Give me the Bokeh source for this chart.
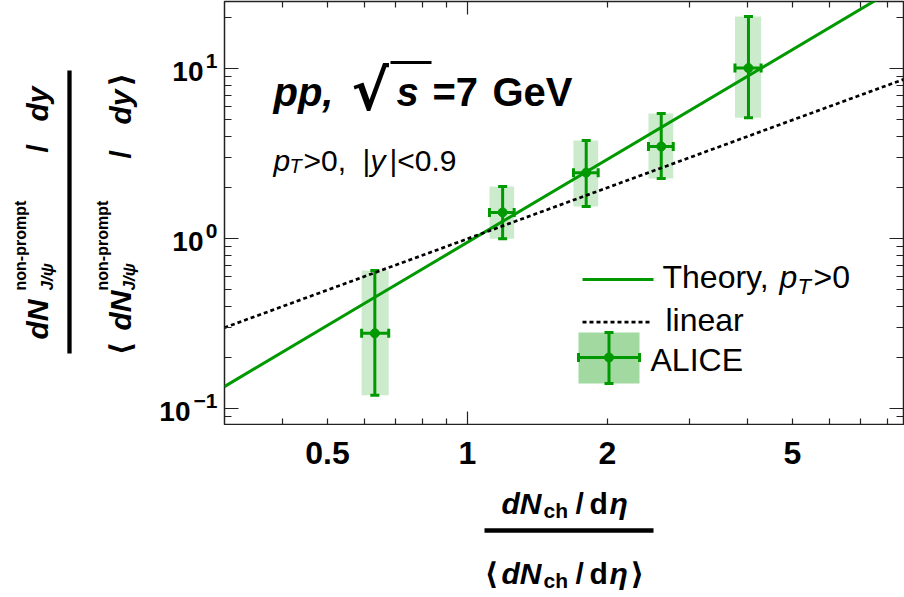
import math
from bokeh.plotting import figure
from bokeh.layouts import column, row
from bokeh.models import (Range1d, LogAxis, LogScale, FixedTicker, Whisker,
                          TeeHead, ColumnDataSource)
from bokeh.core.properties import value
from bokeh.embed import file_html
from bokeh.resources import INLINE

# ---------------- data ----------------
alice_x = [0.632, 1.19, 1.80, 2.61, 4.02]
alice_y = [0.278, 1.43, 2.45, 3.49, 10.1]
alice_xlo = [0.592, 1.115, 1.69, 2.45, 3.76]
alice_xhi = [0.677, 1.26, 1.91, 2.77, 4.28]
alice_ylo = [0.120, 1.00, 1.55, 2.26, 5.15]
alice_yhi = [0.651, 2.03, 3.79, 5.46, 20.3]

theory_x = [0.30, 0.632, 7.47, 8.70]
theory_y = [0.135, 0.453, 24.9, 31.5]

linear_x = [0.30, 8.66]
linear_y = [0.30, 8.66]

x_tick_vals = [0.5, 1, 2, 5]
x_tick_text = ["0.5", "1", "2", "5"]
x_major = [1]
x_minor = [0.3, 0.4, 0.5, 0.6, 0.7, 0.8, 0.9, 2, 3, 4, 5, 6, 7, 8]

y_tick_vals = [10, 1, 0.1]
y_tick_sup = ["1", "0", "\u22121"]
y_major = [0.1, 1, 10]
y_minor = [0.09, 0.2, 0.3, 0.4, 0.5, 0.6, 0.7, 0.8, 0.9,
           2, 3, 4, 5, 6, 7, 8, 9, 20]

GREEN = "#009900"
FONT = "Liberation Sans"

# ---------------- geometry (pixels of the 904x597 page) ----------------
W, H = 904, 597
FL, FR, FT, FB = 224, 903, 1, 424          # frame edges on the page
PX1, PXD = 467.0, 465.0                    # pixel of x=1, pixels per decade
PY1, PYD = 238.3, 170.0                    # pixel of y=1, pixels per decade
K = 0.34                                   # baseline correction (fraction of font size)


def X(px):
    return 10 ** ((px - PX1) / PXD)


def Y(py):
    return 10 ** ((PY1 - py) / PYD)


def px_of(v):
    return PX1 + PXD * math.log10(v)


def py_of(v):
    return PY1 - PYD * math.log10(v)


xr = Range1d(X(FL), X(FR))
yr = Range1d(Y(FB), Y(FT))

common = dict(output_backend="svg", toolbar_location=None,
              x_axis_type=None, y_axis_type=None)

# main plot: canvas spans page x 223..904, y 0..425
M = figure(width=W - (FL - 1), height=FB + 1, x_range=xr, y_range=yr,
           min_border_left=1, min_border_right=W - FR, min_border_top=FT,
           min_border_bottom=1, **common)
M.x_scale = LogScale()
M.y_scale = LogScale()
M.outline_line_color = "#222222"
M.outline_line_width = 1.5
M.border_fill_color = "white"


def make_axis(ticks, minors, major_len, minor_len):
    ax = LogAxis(ticker=FixedTicker(ticks=ticks, minor_ticks=minors))
    ax.major_tick_in = major_len
    ax.major_tick_out = 0
    ax.minor_tick_in = minor_len
    ax.minor_tick_out = 0
    ax.major_tick_line_color = "#222222"
    ax.minor_tick_line_color = "#222222"
    ax.major_tick_line_width = 1.2
    ax.minor_tick_line_width = 1.2
    ax.axis_line_color = None
    ax.major_label_text_font_size = "0px"
    ax.major_label_text_color = None
    ax.major_label_standoff = 0
    ax.axis_label = None
    return ax


M.add_layout(make_axis(x_major, x_minor, 13, 6), "below")
M.add_layout(make_axis(x_major, x_minor, 13, 6), "above")
M.add_layout(make_axis(y_major, y_minor, 14, 7), "left")
M.add_layout(make_axis(y_major, y_minor, 14, 7), "right")

# ---------------- marks ----------------
src = ColumnDataSource(dict(x=alice_x, y=alice_y, xlo=alice_xlo, xhi=alice_xhi,
                            ylo=alice_ylo, yhi=alice_yhi))
M.quad(left="xlo", right="xhi", bottom="ylo", top="yhi", source=src,
       fill_color=GREEN, fill_alpha=0.2, line_color=None)

M.line(theory_x, theory_y, line_color=GREEN, line_width=3)
M.line(linear_x, linear_y, line_color="black", line_width=2.7, line_dash="4 3")


def whiskers(source):
    for dim, base, lo, hi in (("height", "x", "ylo", "yhi"), ("width", "y", "xlo", "xhi")):
        w = Whisker(source=source, base=base, lower=lo, upper=hi, dimension=dim,
                    line_color=GREEN, line_width=3,
                    upper_head=TeeHead(size=9, line_color=GREEN, line_width=3),
                    lower_head=TeeHead(size=9, line_color=GREEN, line_width=3))
        M.add_layout(w)


whiskers(src)
M.scatter("x", "y", source=src, size=9, fill_color=GREEN, line_color=GREEN)

# ---------------- legend (drawn by hand) ----------------
M.line([X(582), X(653)], [Y(279), Y(279)], line_color=GREEN, line_width=3)
M.line([X(582), X(650)], [Y(321.7), Y(321.7)], line_color="black",
       line_width=2.7, line_dash="4 3")
lsrc = ColumnDataSource(dict(x=[X(608.5)], y=[Y(357)], xlo=[X(578)], xhi=[X(639)],
                             ylo=[Y(383)], yhi=[Y(332)]))
M.quad(left="xlo", right="xhi", bottom="ylo", top="yhi", source=lsrc,
       fill_color=GREEN, fill_alpha=0.37, line_color=None)
whiskers(lsrc)
M.scatter("x", "y", source=lsrc, size=9, fill_color=GREEN, line_color=GREEN)


# ---------------- text helper (positions in page pixels) ----------------
def put(fig, kind, px, py, text, size, style="normal", font=FONT, align="left",
        rot=False):
    d = K * size
    if rot:
        px -= d
    else:
        py -= d
    if kind == "M":
        x, y = X(px), Y(py)
    elif kind == "L":
        x, y = px, Y(py)
    else:
        x, y = X(px), py
    fig.text(x=[x], y=[y], text=[text], text_font=value(font),
             text_font_size=value(f"{size}px"), text_font_style=style,
             text_align=align, text_baseline="alphabetic", text_color="black",
             angle=(math.pi / 2 if rot else 0.0))


# title texts (inside the frame)
put(M, "M", 273, 105, "pp,", 40, "bold italic")
put(M, "M", 351, 109, "\u221a", 56, "bold", font="DejaVu Sans")
M.line([X(390), X(431)], [Y(62), Y(62)], line_color="black", line_width=3)
put(M, "M", 396, 105, "s", 40, "bold italic")
put(M, "M", 432, 105, "=7", 40, "bold")
put(M, "M", 492, 105, "GeV", 40, "bold")

put(M, "M", 273, 170, "p", 30, "italic")
put(M, "M", 289, 172, "T", 20, "italic")
put(M, "M", 303, 170, ">0,", 30)
put(M, "M", 362, 170, "|", 30)
put(M, "M", 370, 170, "y", 30, "italic")
put(M, "M", 389, 170, "|<0.9", 30)

# legend texts
put(M, "M", 662, 287, "Theory,", 32)
put(M, "M", 779, 287, "p", 32, "italic")
put(M, "M", 797, 293, "T", 22, "italic")
put(M, "M", 813, 287, ">0", 32)
put(M, "M", 665, 330, "linear", 32)
put(M, "M", 650, 370, "ALICE", 32)

# ---------------- left panel (full height): y tick labels and y title ----------------
L = figure(width=FL - 1, height=H, x_range=Range1d(0, FL - 1),
           y_range=Range1d(Y(H), Y(FT)),
           min_border_left=0, min_border_right=0, min_border_top=FT,
           min_border_bottom=0, **common)
L.y_scale = LogScale()
L.outline_line_color = None

for v, s in zip(y_tick_vals, y_tick_sup):
    ty = py_of(v)
    put(L, "L", 217, ty - 0.5, s, 21, "bold", align="right")
    sup_w = 27 if s.startswith("\u2212") else 14
    put(L, "L", 217 - sup_w, ty + 12, "10", 28, "bold", align="right")

for bx, sup_x, sub_x, s_dn, s_sl, s_dy in ((47.5, 25, 53, 339, 152, 121),
                                           (130, 107, 135, 330, 158, 124)):
    put(L, "L", bx, s_dn, "dN", 30, "bold italic", rot=True)
    put(L, "L", sup_x, 290, "non-prompt", 16, "bold", rot=True)
    put(L, "L", sub_x, 290, "J/\u03c8", 17, "bold italic", rot=True)
    put(L, "L", bx, s_sl, "/", 30, "bold", rot=True)
    put(L, "L", bx, s_dy, "dy", 30, "bold italic", rot=True)
put(L, "L", 130, 355, "\u27e8", 30, "bold", font="DejaVu Sans", rot=True)
put(L, "L", 130, 86, "\u27e9", 30, "bold", font="DejaVu Sans", rot=True)
L.line([69, 69], [Y(70), Y(353)], line_color="black", line_width=4.3)

# ---------------- bottom panel: x tick labels and x title ----------------
B = figure(width=W - (FL - 1), height=H - FB - 1, x_range=xr,
           y_range=Range1d(H, FB + 1),
           min_border_left=1, min_border_right=W - FR, min_border_top=0,
           min_border_bottom=0, **common)
B.x_scale = LogScale()
B.outline_line_color = None

for v, t in zip(x_tick_vals, x_tick_text):
    put(B, "B", px_of(v), 463, t, 32, "bold", align="center")

for base in (513, 583):
    put(B, "B", 501, base, "dN", 30, "bold italic")
    put(B, "B", 543, base + 4, "ch", 21, "bold")
    put(B, "B", 575, base, "/", 30, "bold")
    put(B, "B", 589, base, "d", 30, "bold")
    put(B, "B", 609, base, "\u03b7", 30, "bold italic")
put(B, "B", 484, 583, "\u27e8", 30, "bold", font="DejaVu Sans")
put(B, "B", 630, 583, "\u27e9", 30, "bold", font="DejaVu Sans")
B.line([X(484), X(653)], [530, 530], line_color="black", line_width=4.5)

layout = row(L, column(M, B, spacing=0), spacing=0)

open("out.html", "w").write(file_html(layout, INLINE))
